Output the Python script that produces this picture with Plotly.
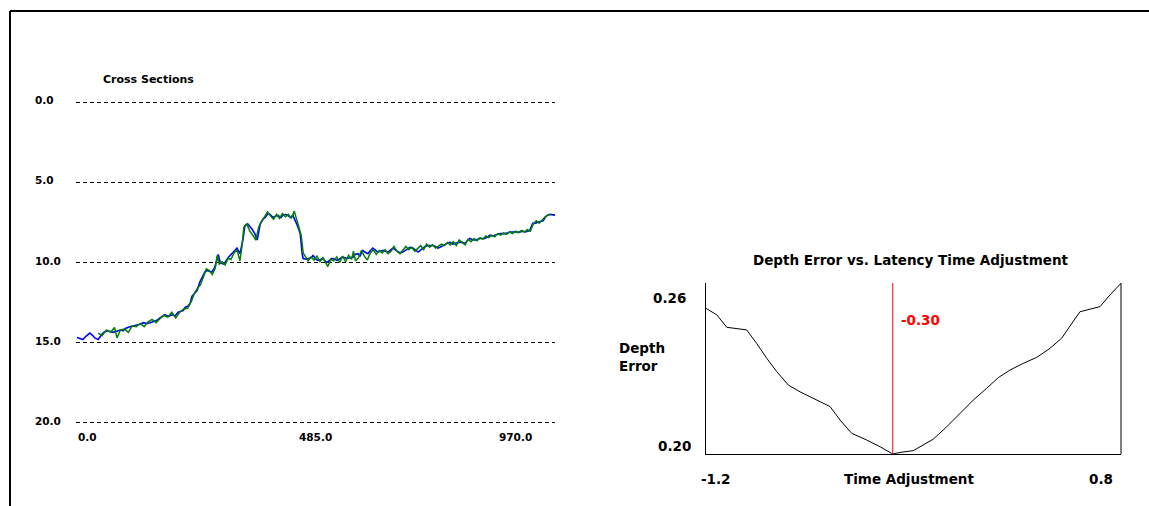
import plotly.graph_objects as go

W, H = 1149, 506

# ---------------- Cross Sections data ----------------
cs_blue_x = [2, 8, 14, 20, 28, 34, 38, 45, 53, 59, 63, 69, 75, 81, 85, 91, 95, 101, 109, 115,
             124, 130, 136, 144, 150, 156, 164, 170, 180, 186, 190, 196, 200, 207, 211, 217, 221, 227, 231, 235,
             241, 245, 251, 257, 261, 265, 271, 275, 281, 286, 288, 292, 298, 302, 308, 314, 318, 326, 332, 338,
             342, 348, 352, 356, 362, 367, 373, 379, 383, 389, 393, 399, 405, 409, 415, 419, 425, 429, 435, 439,
             443, 447, 452, 454, 458, 460, 466, 470, 476, 480, 486, 490, 496, 500, 504, 508, 514, 518, 524, 529,
             535, 539, 545, 549, 555, 561, 565, 571, 575, 581, 585, 591, 595, 601, 605, 611, 616, 622, 626, 632,
             636, 642, 646, 652, 656, 662, 666, 672, 676, 682, 686, 693, 697, 703, 707, 713, 717, 723, 727, 733,
             737, 743, 749, 757, 763, 767, 774, 778, 784, 788, 794, 798, 804, 808, 814, 818, 824, 828, 834, 838,
             844, 848, 855, 859, 865, 869, 875, 879, 885, 889, 895, 899, 905, 909, 915, 919, 925, 931, 936, 942,
             946, 950, 954, 960, 966, 970]
cs_blue_y = [14.67, 14.75, 14.80, 14.6, 14.4, 14.55, 14.7, 14.8, 14.45, 14.3, 14.25, 14.3, 14.35, 14.3, 14.25, 14.2, 14.25, 14.1, 14.0, 13.95,
             13.9, 13.85, 13.75, 13.8, 13.75, 13.7, 13.6, 13.45, 13.25, 13.35, 13.3, 13.25, 13.35, 13.1, 13.05, 13.0, 12.8, 12.7, 12.55, 12.1,
             11.9, 11.75, 11.2, 10.8, 10.6, 10.5, 10.55, 10.6, 10.3, 9.8, 9.5, 10.0, 10.1, 10.0, 9.7, 9.5, 9.35, 9.1, 9.45, 8.6,
             7.7, 7.6, 7.75, 7.9, 8.2, 8.6, 7.6, 7.3, 7.2, 6.95, 7.0, 7.2, 7.1, 7.06, 7.2, 7.06, 7.0, 7.1, 7.2, 7.06,
             7.3, 7.6, 8.0, 8.2, 9.45, 9.75, 9.8, 9.75, 9.7, 9.56, 9.8, 9.87, 9.8, 9.75, 9.9, 10.0, 9.85, 9.75, 9.8, 9.87,
             9.75, 9.67, 9.7, 9.75, 9.7, 9.67, 9.5, 9.45, 9.6, 9.25, 9.35, 9.45, 9.3, 9.1, 9.2, 9.35, 9.3, 9.25, 9.3, 9.35,
             9.25, 9.1, 9.2, 9.35, 9.4, 9.35, 9.25, 9.1, 9.05, 9.1, 9.2, 9.35, 9.25, 9.1, 9.0, 8.94, 8.95, 8.94, 9.0, 9.1,
             9.05, 8.94, 8.85, 8.73, 8.85, 8.8, 8.75, 8.73, 8.8, 8.8, 8.6, 8.5, 8.6, 8.6, 8.55, 8.5, 8.5, 8.5, 8.4, 8.3,
             8.35, 8.3, 8.25, 8.2, 8.2, 8.2, 8.15, 8.1, 8.1, 8.1, 8.1, 8.1, 8.05, 8.1, 8.05, 8.0, 7.56, 7.55, 7.48, 7.45,
             7.4, 7.2, 7.06, 7.0, 7.05, 7.05]

cs_green_x = [45, 53, 62, 70, 78, 83, 90, 98, 106, 114, 122, 130, 138, 146, 154, 162, 170, 178, 186, 194,
              202, 210, 218, 226, 234, 240, 246, 252, 258, 264, 270, 276, 282, 286, 290, 296, 302, 308, 314, 320,
              326, 332, 336, 340, 346, 352, 358, 364, 370, 376, 382, 388, 394, 400, 406, 412, 418, 424, 430, 436,
              442, 448, 452, 456, 460, 464, 470, 476, 482, 488, 494, 500, 506, 510, 516, 522, 528, 534, 540, 546,
              552, 558, 562, 566, 572, 578, 584, 590, 596, 602, 608, 614, 620, 626, 632, 638, 644, 650, 656, 662,
              668, 674, 680, 686, 692, 698, 704, 710, 716, 722, 728, 734, 740, 746, 752, 758, 764, 770, 776, 782,
              788, 794, 800, 806, 812, 818, 824, 830, 836, 842, 848, 854, 860, 866, 872, 878, 884, 890, 896, 902,
              908, 914, 920, 926, 932, 938, 944, 950, 956, 962]
cs_green_y = [14.4, 14.55, 14.2, 14.35, 14.05, 14.7, 14.2, 14.15, 14.35, 13.95, 14.0, 13.8, 14.0, 13.7, 13.55, 13.75, 13.5, 13.3, 13.4, 13.1,
              13.45, 13.1, 12.9, 12.85, 12.4, 11.9, 11.6, 11.4, 10.9, 10.4, 10.5, 10.75, 10.35, 9.55, 10.1, 9.95, 10.15, 9.75, 9.8, 9.4,
              9.2, 9.9, 9.0, 7.8, 7.6, 8.05, 8.3, 8.6, 7.8, 7.4, 7.15, 6.85, 7.1, 7.3, 7.0, 7.25, 6.95, 7.15, 7.0, 7.25,
              6.8, 7.5, 7.9, 8.3, 9.4, 9.6, 9.9, 9.65, 9.85, 9.6, 9.95, 9.7, 10.05, 10.25, 9.8, 9.9, 9.65, 10.0, 9.6, 9.95,
              9.55, 9.8, 9.3, 9.9, 9.7, 9.25, 9.6, 9.85, 9.4, 9.2, 9.5, 9.25, 9.4, 9.2, 9.45, 9.3, 9.0, 9.3, 9.45, 9.2,
              9.0, 9.2, 9.05, 9.3, 9.15, 8.95, 9.2, 8.85, 9.05, 8.9, 9.1, 8.95, 8.85, 8.95, 8.75, 8.9, 8.7, 8.95, 8.6, 8.75,
              8.9, 8.55, 8.7, 8.5, 8.65, 8.45, 8.55, 8.35, 8.45, 8.3, 8.4, 8.2, 8.3, 8.15, 8.25, 8.1, 8.2, 8.05, 8.15, 8.0,
              8.1, 7.95, 8.05, 7.6, 7.4, 7.55, 7.35, 7.15, 7.05, 7.0]

cs_y_ticks = [0, 5, 10, 15, 20]
cs_x_ticks = [0, 485, 970]
cs_x_range = [0, 970]

# ---------------- Depth error vs latency data ----------------
lat_x = [-1.2, -1.148, -1.10, -1.052, -1.004, -0.956, -0.907, -0.859, -0.803, -0.747, -0.683, -0.602,
         -0.554, -0.498, -0.426, -0.361, -0.30, -0.265, -0.201, -0.153, -0.105, -0.040, 0.024, 0.088,
         0.153, 0.209, 0.265, 0.329, 0.394, 0.458, 0.514, 0.562, 0.602, 0.651, 0.699, 0.747, 0.80]
lat_y = [0.2562, 0.2537, 0.2489, 0.2483, 0.2479, 0.2427, 0.2369, 0.2318, 0.2266, 0.2240, 0.2215, 0.2183,
         0.2131, 0.2080, 0.2054, 0.2028, 0.2000, 0.2006, 0.2013, 0.2035, 0.2057, 0.2105, 0.2157, 0.2208,
         0.2254, 0.2295, 0.2324, 0.2350, 0.2373, 0.2408, 0.2447, 0.2504, 0.2549, 0.2559, 0.2569, 0.2614, 0.2659]
lat_x_range = [-1.2, 0.8]
lat_y_range = [0.200, 0.266]
best_adjustment = -0.30


def px(x):
    return x / W


def py(y):
    return 1 - y / H


FAM = "DejaVu Sans"
small = dict(family=FAM, size=10.5, color="black", weight="bold")
big = dict(family=FAM, size=13.5, color="black", weight="bold")

fig = go.Figure()

fig.add_trace(go.Scatter(x=cs_blue_x, y=cs_blue_y, mode="lines",
                         line=dict(color="#0000ff", width=1.6), xaxis="x", yaxis="y"))
fig.add_trace(go.Scatter(x=cs_green_x, y=cs_green_y, mode="lines",
                         line=dict(color="#008000", width=1.5), xaxis="x", yaxis="y"))
fig.add_trace(go.Scatter(x=lat_x, y=lat_y, mode="lines",
                         line=dict(color="black", width=1), xaxis="x2", yaxis="y2"))

annotations = []
# left chart labels
for v in cs_y_ticks:
    annotations.append(dict(text=f"{v:.1f}", x=px(33), xref="paper", xanchor="left",
                            y=v, yref="y", yanchor="middle", yshift=2, showarrow=False, font=small))
anchors = ["left", "center", "right"]
shifts = [0, 0, -21]
for v, a, s in zip(cs_x_ticks, anchors, shifts):
    annotations.append(dict(text=f"{v:.1f}", x=v, xref="x", xanchor=a, xshift=s,
                            y=py(437), yref="paper", yanchor="middle", showarrow=False, font=small))
annotations.append(dict(text="Cross Sections", x=px(148), xref="paper", xanchor="center",
                        y=py(80), yref="paper", yanchor="middle", showarrow=False,
                        font=dict(family=FAM, size=11, color="black", weight="bold")))

# right chart labels
annotations.append(dict(text="Depth Error vs. Latency Time Adjustment", x=px(910), xref="paper",
                        xanchor="center", y=py(260), yref="paper", yanchor="middle",
                        showarrow=False, font=big))
annotations.append(dict(text="Depth<br>Error", x=px(617), xref="paper", xanchor="left", align="left",
                        y=py(357), yref="paper", yanchor="middle", showarrow=False, font=big))
annotations.append(dict(text=f"{lat_y_range[1] - 0.006:.2f}", x=px(688), xref="paper", xanchor="right",
                        y=py(298), yref="paper", yanchor="middle", showarrow=False, font=big))
annotations.append(dict(text=f"{lat_y_range[0]:.2f}", x=px(693), xref="paper", xanchor="right",
                        y=py(446), yref="paper", yanchor="middle", showarrow=False, font=big))
annotations.append(dict(text=f"{lat_x_range[0]:.1f}", x=lat_x_range[0], xref="x2", xanchor="left", xshift=-7,
                        y=py(479), yref="paper", yanchor="middle", showarrow=False, font=big))
annotations.append(dict(text=f"{lat_x_range[1]:.1f}", x=lat_x_range[1], xref="x2", xanchor="right", xshift=-6,
                        y=py(479), yref="paper", yanchor="middle", showarrow=False, font=big))
annotations.append(dict(text="Time Adjustment", x=px(909), xref="paper", xanchor="center",
                        y=py(479), yref="paper", yanchor="middle", showarrow=False, font=big))
annotations.append(dict(text=f"{best_adjustment:.2f}", x=best_adjustment, xref="x2", xanchor="left", xshift=6,
                        y=py(320), yref="paper", yanchor="middle", showarrow=False,
                        font=dict(family=FAM, size=13.5, color="#ff0000", weight="bold")))

shapes = [
    # outer frame (top and left)
    dict(type="line", xref="paper", yref="paper", x0=px(10), x1=1.0, y0=py(11), y1=py(11),
         line=dict(color="black", width=2)),
    dict(type="line", xref="paper", yref="paper", x0=px(10), x1=px(10), y0=py(11), y1=0,
         line=dict(color="black", width=2)),
    # right border of the latency plot
    dict(type="line", xref="x2 domain", yref="y2 domain", x0=1, x1=1, y0=0, y1=1,
         line=dict(color="black", width=1)),
    # red optimum marker line
    dict(type="line", xref="x2", yref="y2 domain", x0=best_adjustment, x1=best_adjustment, y0=0, y1=1,
         line=dict(color="#ff0000", width=1)),
]

fig.update_layout(
    width=W, height=H,
    margin=dict(l=0, r=0, t=0, b=0, pad=0),
    paper_bgcolor="white", plot_bgcolor="white",
    showlegend=False,
    xaxis=dict(domain=[px(76), px(555)], range=cs_x_range, showgrid=False, zeroline=False,
               showticklabels=False, showline=False, fixedrange=True),
    yaxis=dict(domain=[py(427.8), py(97.2)], range=[20.3, -0.3], tickvals=cs_y_ticks,
               showgrid=True, gridcolor="black", gridwidth=1, griddash="4px,3px",
               zeroline=False, showticklabels=False, showline=False, fixedrange=True),
    xaxis2=dict(domain=[px(706), px(1121)], range=lat_x_range, showgrid=False, zeroline=False,
                showticklabels=False, showline=True, linecolor="black", linewidth=1,
                anchor="y2", fixedrange=True),
    yaxis2=dict(domain=[py(454), py(283)], range=lat_y_range, showgrid=False, zeroline=False,
                showticklabels=False, showline=True, linecolor="black", linewidth=1,
                anchor="x2", fixedrange=True),
    annotations=annotations,
    shapes=shapes,
)

fig.write_html("out.html", config={"displayModeBar": False},
               post_script="document.body.style.margin='0';document.body.style.overflow='hidden';")
